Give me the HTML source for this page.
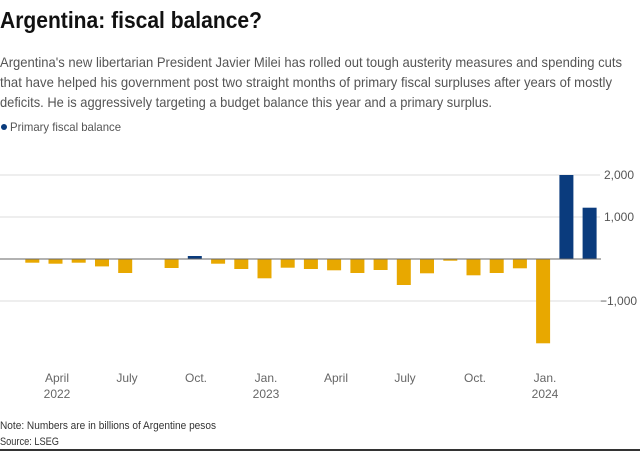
<!DOCTYPE html>
<html><head><meta charset="utf-8"><style>
html,body{margin:0;padding:0;background:#fff;}
svg{display:block;font-family:"Liberation Sans",sans-serif;}
</style></head><body>
<svg width="640" height="451" viewBox="0 0 640 451" xmlns="http://www.w3.org/2000/svg">
<text x="0" y="28" font-size="23" font-weight="bold" fill="#111" textLength="262" lengthAdjust="spacingAndGlyphs">Argentina: fiscal balance?</text>
<g font-size="14" fill="#555">
<text x="0" y="67" textLength="622" lengthAdjust="spacingAndGlyphs">Argentina's new libertarian President Javier Milei has rolled out tough austerity measures and spending cuts</text>
<text x="0" y="87" textLength="612" lengthAdjust="spacingAndGlyphs">that have helped his government post two straight months of primary fiscal surpluses after years of mostly</text>
<text x="0" y="107" textLength="492" lengthAdjust="spacingAndGlyphs">deficits. He is aggressively targeting a budget balance this year and a primary surplus.</text>
</g>
<circle cx="4" cy="127" r="3" fill="#0a3b7d"/>
<text x="10" y="131" font-size="12" fill="#555" textLength="111" lengthAdjust="spacingAndGlyphs">Primary fiscal balance</text>
<g stroke="#ddd" stroke-width="1">
<line x1="0" y1="175" x2="600" y2="175"/>
<line x1="0" y1="217" x2="600" y2="217"/>
<line x1="0" y1="301" x2="600" y2="301"/>
</g>
<g font-size="12" fill="#555">
<text x="604" y="179">2,000</text>
<text x="604" y="221">1,000</text>
<text x="600" y="305">−1,000</text>
</g>
<g fill="#e8a800">
<rect x="25.3" y="259" width="14" height="3.7"/>
<rect x="48.5" y="259" width="14" height="4.7"/>
<rect x="71.7" y="259" width="14" height="3.7"/>
<rect x="95.0" y="259" width="14" height="7.4"/>
<rect x="118.2" y="259" width="14" height="14"/>
<rect x="164.6" y="259" width="14" height="9"/>
<rect x="211.1" y="259" width="14" height="4.7"/>
<rect x="234.3" y="259" width="14" height="10"/>
<rect x="257.5" y="259" width="14" height="19.3"/>
<rect x="280.7" y="259" width="14" height="8.7"/>
<rect x="303.9" y="259" width="14" height="10"/>
<rect x="327.1" y="259" width="14" height="11.3"/>
<rect x="350.4" y="259" width="14" height="14"/>
<rect x="373.6" y="259" width="14" height="11"/>
<rect x="396.8" y="259" width="14" height="26"/>
<rect x="420.0" y="259" width="14" height="14.3"/>
<rect x="443.3" y="259" width="14" height="1.7"/>
<rect x="466.5" y="259" width="14" height="16.3"/>
<rect x="489.7" y="259" width="14" height="14"/>
<rect x="512.9" y="259" width="14" height="9.3"/>
<rect x="536.1" y="259" width="14" height="84.3"/>
</g>
<g fill="#0a3b7d">
<rect x="187.8" y="256" width="14" height="3"/>
<rect x="559.4" y="175" width="14" height="84"/>
<rect x="582.6" y="207.7" width="14" height="51.3"/>
</g>
<line x1="0" y1="259" x2="601" y2="259" stroke="#666" stroke-width="1"/>
<g font-size="12" fill="#666" text-anchor="middle">
<text x="57" y="382">April</text><text x="57" y="398">2022</text>
<text x="127" y="382">July</text>
<text x="196" y="382">Oct.</text>
<text x="266" y="382">Jan.</text><text x="266" y="398">2023</text>
<text x="336" y="382">April</text>
<text x="405" y="382">July</text>
<text x="475" y="382">Oct.</text>
<text x="545" y="382">Jan.</text><text x="545" y="398">2024</text>
</g>
<g font-size="11" fill="#333">
<text x="0" y="429" textLength="216" lengthAdjust="spacingAndGlyphs">Note: Numbers are in billions of Argentine pesos</text>
<text x="0" y="445" textLength="59" lengthAdjust="spacingAndGlyphs">Source: LSEG</text>
</g>
<rect x="0" y="449" width="640" height="2" fill="#333"/>
</svg>
</body></html>
